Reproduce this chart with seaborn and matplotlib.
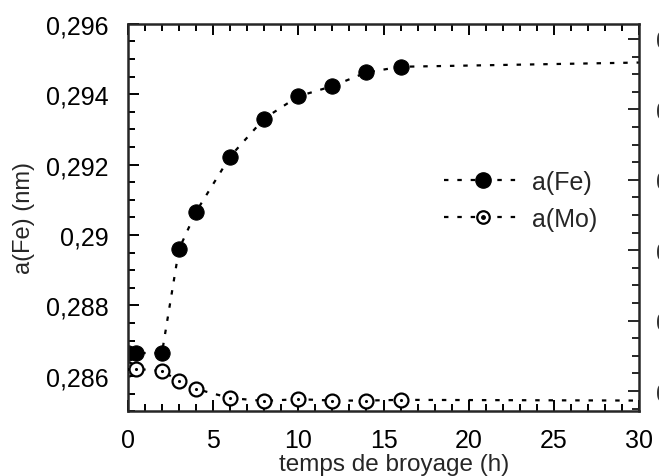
import numpy as np
import pandas as pd
import matplotlib
matplotlib.use('Agg')
import matplotlib.pyplot as plt
import seaborn as sns
from matplotlib.lines import Line2D
from matplotlib.legend_handler import HandlerTuple
from matplotlib.ticker import MultipleLocator, FuncFormatter

# temps de broyage (h) -- last point (30 h) is only the end of the dotted trend line
temps = [0, 0.5, 2, 3, 4, 6, 8, 10, 12, 14, 16, 30]
a_fe = [0.28665, 0.28665, 0.28665, 0.2896, 0.29066, 0.29223, 0.29331,
        0.29394, 0.29423, 0.29462, 0.29478, 0.2949]
a_mo = [0.2862, 0.2862, 0.28614, 0.28586, 0.28563, 0.28537, 0.28529,
        0.28534, 0.2853, 0.2853, 0.28532, 0.2853]
n_mesures = 11

# labels of the cropped right axis (only the left edge is visible)
droite_ticks = [0.29557, 0.29357, 0.29157, 0.28957, 0.28757, 0.28557]
droite_labels = ['0', '0', '0', '0', '0', '0']

df = pd.DataFrame({'temps': temps, 'a(Fe)': a_fe, 'a(Mo)': a_mo})

sns.set_style('ticks')
plt.rcParams['font.family'] = ['Liberation Sans', 'DejaVu Sans']

fig = plt.figure(figsize=(6.59, 4.77), dpi=100)
ax = fig.add_axes([0.194, 0.136, 0.776, 0.812])

ls = (0, (2, 4))
sns.lineplot(data=df, x='temps', y='a(Fe)', ax=ax, color='black', lw=1.6,
             linestyle=ls, marker='o', markersize=11, markeredgecolor='black',
             markevery=list(range(n_mesures)))
sns.lineplot(data=df, x='temps', y='a(Mo)', ax=ax, color='black', lw=1.6,
             linestyle=ls, marker='o', markersize=10, markerfacecolor='white',
             markeredgecolor='black', markeredgewidth=1.6,
             markevery=list(range(n_mesures)))
# point in the centre of the open circles
sns.scatterplot(x=temps[:n_mesures], y=a_mo[:n_mesures], ax=ax, color='black',
                s=5, linewidth=0, zorder=5)

ax.set_xlim(0, 30)
ax.set_ylim(0.285, 0.296)
ax.xaxis.set_major_locator(MultipleLocator(5))
ax.xaxis.set_minor_locator(MultipleLocator(1))
ax.yaxis.set_major_locator(MultipleLocator(0.002))
ax.yaxis.set_minor_locator(MultipleLocator(0.0005))
ax.yaxis.set_major_formatter(FuncFormatter(lambda v, p: ('%g' % round(v, 4)).replace('.', ',')))
ax.tick_params(which='both', direction='in', top=True, right=False, width=1.4,
               labelsize=18, colors='black')
ax.tick_params(which='major', length=8)
ax.tick_params(which='minor', length=5)
ax.tick_params(axis='x', pad=12)
ax.tick_params(axis='y', pad=14)
for s in ax.spines.values():
    s.set_linewidth(1.8)
    s.set_visible(True)

ax.set_xlabel('temps de broyage (h)', fontsize=17.5, labelpad=1)
ax.xaxis.label.set_x(0.52)
ax.set_ylabel('a(Fe) (nm)', fontsize=17, labelpad=8)

# cropped right axis (its own scale, labels cut by the page edge)
ax2 = ax.twinx()
ax2.set_ylim(ax.get_ylim())
ax2.set_yticks(droite_ticks)
ax2.set_yticklabels(droite_labels)
ax2.yaxis.set_minor_locator(MultipleLocator(0.0005, offset=0.00007))
ax2.tick_params(axis='y', which='both', direction='in', width=1.4, pad=12,
                labelsize=18, labelcolor='#333333')
ax2.tick_params(axis='y', which='major', length=8)
ax2.tick_params(axis='y', which='minor', length=5)
for s in ax2.spines.values():
    s.set_visible(False)

h_fe = Line2D([], [], color='black', lw=1.6, linestyle=ls, marker='o',
              markersize=11)
h_mo_a = Line2D([], [], color='black', lw=1.6, linestyle=ls, marker='o',
                markersize=9, markerfacecolor='white', markeredgewidth=1.6)
h_mo_b = Line2D([], [], color='black', lw=0, marker='o', markersize=2.5)
ax.legend([h_fe, (h_mo_a, h_mo_b)], ['a(Fe)', 'a(Mo)'], frameon=False,
          fontsize=18, handlelength=3.1, handletextpad=0.4, labelspacing=0.5,
          handler_map={tuple: HandlerTuple(ndivide=1)},
          loc='upper left', bbox_to_anchor=(0.575, 0.68))

fig.savefig('out.png', dpi=100)
